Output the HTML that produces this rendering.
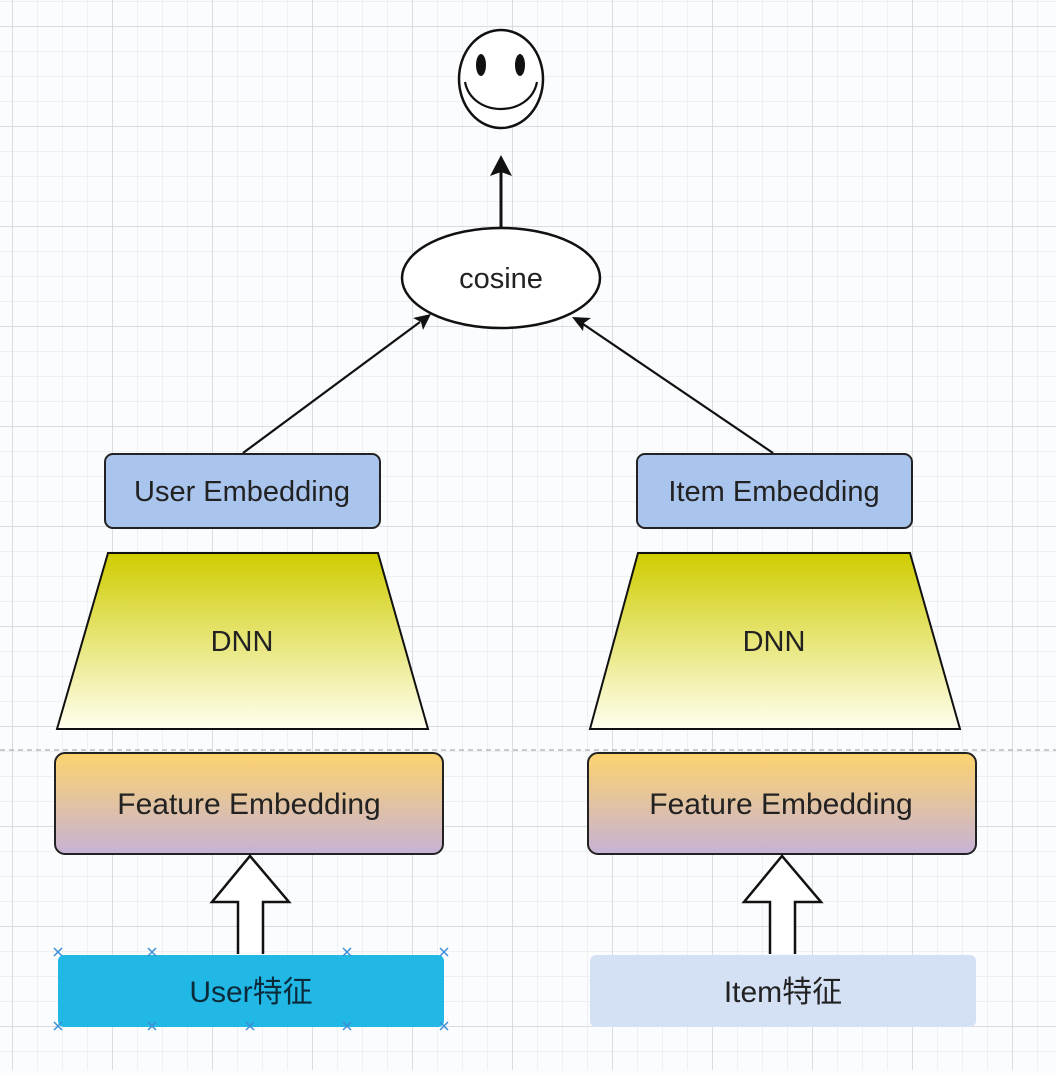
<!DOCTYPE html>
<html><head><style>
body{margin:0;width:1056px;height:1070px;overflow:hidden;background:#fbfcfe;}
</style></head><body>
<svg width="1056" height="1070" xmlns="http://www.w3.org/2000/svg" font-family="Liberation Sans, Noto Sans CJK SC, sans-serif">
<defs>
<pattern id="minor" x="12" y="1" width="25" height="25" patternUnits="userSpaceOnUse">
<path d="M0 0V25M0 0H25" stroke="#e3e5eb" stroke-width="1" fill="none"/>
</pattern>
<pattern id="major" x="12" y="26" width="100" height="100" patternUnits="userSpaceOnUse">
<path d="M0 0V100M0 0H100" stroke="#d0d2d8" stroke-width="1.5" fill="none"/>
</pattern>
<linearGradient id="dnn" x1="0" y1="0" x2="0" y2="1">
<stop offset="0" stop-color="#cfcc00"/><stop offset="1" stop-color="#fffff0"/>
</linearGradient>
<linearGradient id="fe" x1="0" y1="0" x2="0" y2="1">
<stop offset="0" stop-color="#fdd36d"/><stop offset="1" stop-color="#c6b2d6"/>
</linearGradient>
</defs>
<rect width="1056" height="1070" fill="url(#minor)"/>
<rect width="1056" height="1070" fill="url(#major)"/>
<line x1="0" y1="750" x2="1056" y2="750" stroke="#b8b8bc" stroke-width="1.5" stroke-dasharray="5,4"/>

<!-- smiley -->
<ellipse cx="501" cy="79" rx="42" ry="49" fill="#fff" stroke="#111" stroke-width="2.5"/>
<ellipse cx="481" cy="65" rx="5" ry="11" fill="#111"/>
<ellipse cx="520" cy="65" rx="5" ry="11" fill="#111"/>
<path d="M465 82 C472 118, 530 118, 537 82" fill="none" stroke="#111" stroke-width="2.2"/>

<!-- arrow up -->
<line x1="501" y1="228" x2="501" y2="170" stroke="#111" stroke-width="3"/>
<path d="M501 155 L512 176 L501 172 L490 176 Z" fill="#111"/>

<ellipse cx="501" cy="278" rx="99" ry="50" fill="#fff" stroke="#111" stroke-width="2.5"/>
<text x="501" y="288" text-anchor="middle" font-size="29" fill="#222">cosine</text>

<line x1="243" y1="453" x2="420" y2="322" stroke="#111" stroke-width="2.2"/>
<path d="M431 314 L413 318 L421 322 L423 330 Z" fill="#111"/>
<line x1="773" y1="453" x2="583" y2="324" stroke="#111" stroke-width="2.2"/>
<path d="M572 317 L583 331 L584 323 L591 318 Z" fill="#111"/>

<!-- left column -->
<rect x="105" y="454" width="275" height="74" rx="8" fill="#a9c5ee" stroke="#222" stroke-width="2"/>
<text x="242" y="501" text-anchor="middle" font-size="29" fill="#222">User Embedding</text>
<polygon points="108,553 378,553 428,729 57,729" fill="url(#dnn)" stroke="#111" stroke-width="2"/>
<text x="242" y="651" text-anchor="middle" font-size="29" fill="#222">DNN</text>
<rect x="55" y="753" width="388" height="101" rx="10" fill="url(#fe)" stroke="#222" stroke-width="2"/>
<text x="249" y="814" text-anchor="middle" font-size="30" fill="#222">Feature Embedding</text>
<path d="M238 954 V902 H212 L250 856 L289 902 H263 V954" fill="#fff" stroke="#111" stroke-width="2.5"/>
<rect x="58" y="955" width="386" height="72" rx="6" fill="#21b8e6"/>
<text x="251" y="1002" text-anchor="middle" font-size="30" fill="#0b2a3a">User特征</text>
<g stroke="#3a8ed8" stroke-width="1.5">
<path d="M54 948l8 8M62 948l-8 8 M54 1022l8 8M62 1022l-8 8 M440 948l8 8M448 948l-8 8 M440 1022l8 8M448 1022l-8 8 M148 948l8 8M156 948l-8 8 M148 1022l8 8M156 1022l-8 8 M343 948l8 8M351 948l-8 8 M343 1022l8 8M351 1022l-8 8 M246 1022l8 8M254 1022l-8 8"/>
</g>

<!-- right column -->
<rect x="637" y="454" width="275" height="74" rx="8" fill="#a9c5ee" stroke="#222" stroke-width="2"/>
<text x="774" y="501" text-anchor="middle" font-size="29" fill="#222">Item Embedding</text>
<polygon points="638,553 910,553 960,729 590,729" fill="url(#dnn)" stroke="#111" stroke-width="2"/>
<text x="774" y="651" text-anchor="middle" font-size="29" fill="#222">DNN</text>
<rect x="588" y="753" width="388" height="101" rx="10" fill="url(#fe)" stroke="#222" stroke-width="2"/>
<text x="781" y="814" text-anchor="middle" font-size="30" fill="#222">Feature Embedding</text>
<path d="M770 954 V902 H744 L782 856 L821 902 H795 V954" fill="#fff" stroke="#111" stroke-width="2.5"/>
<rect x="590" y="955" width="386" height="72" rx="6" fill="#d4e1f5"/>
<text x="783" y="1002" text-anchor="middle" font-size="30" fill="#222">Item特征</text>
</svg>
</body></html>
